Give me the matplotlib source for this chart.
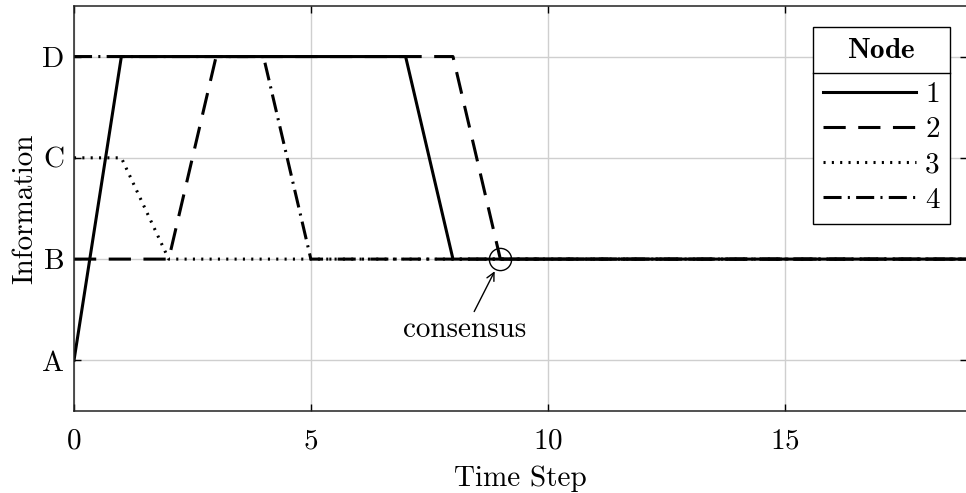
"""Consensus of node information over time steps."""
import matplotlib
matplotlib.use("Agg")
import matplotlib.pyplot as plt
from matplotlib.lines import Line2D

plt.rcParams['font.family'] = ['cmr10', 'DejaVu Serif']
plt.rcParams['mathtext.fontset'] = 'cm'
plt.rcParams['axes.formatter.use_mathtext'] = True
plt.rcParams['lines.scale_dashes'] = False

# data: information level per node at each time step (A=1, B=2, C=3, D=4)
time_steps = list(range(0, 20))
node_1 = [1, 4, 4, 4, 4, 4, 4, 4, 2, 2, 2, 2, 2, 2, 2, 2, 2, 2, 2, 2]
node_2 = [2, 2, 2, 4, 4, 4, 4, 4, 4, 2, 2, 2, 2, 2, 2, 2, 2, 2, 2, 2]
node_3 = [3, 3, 2, 2, 2, 2, 2, 2, 2, 2, 2, 2, 2, 2, 2, 2, 2, 2, 2, 2]
node_4 = [4, 4, 4, 4, 4, 2, 2, 2, 2, 2, 2, 2, 2, 2, 2, 2, 2, 2, 2, 2]
node_labels = ['1', '2', '3', '4']
info_levels = [1, 2, 3, 4]
info_labels = ['A', 'B', 'C', 'D']
x_ticks = [0, 5, 10, 15]
consensus_point = (9, 2)

FS = 21
styles = [
    '-',
    (0, (16, 9)),
    (0, (1.5, 4.5)),
    (0, (13, 4.5, 1.5, 4.5)),
]

fig = plt.figure(figsize=(9.66, 4.93), dpi=100)
ax = fig.add_axes([0.0766, 0.1663, 0.9244, 0.8217])

for vals, ls, lab in zip([node_1, node_2, node_3, node_4], styles, node_labels):
    ax.plot(time_steps, vals, color='black', lw=2.2, linestyle=ls, label=lab)

ax.plot(*consensus_point, marker='o', ms=16, mfc='none', mec='black', mew=1.0, zorder=5)
ax.annotate('consensus', xy=(consensus_point[0] - 0.12, consensus_point[1] - 0.12),
            xytext=(8.25, 1.3), ha='center', va='center', fontsize=FS,
            arrowprops=dict(arrowstyle='->', color='black', lw=1.0,
                            shrinkA=2, shrinkB=0, mutation_scale=14))

ax.set_xlim(0, 18.85)
ax.set_ylim(0.5, 4.5)
ax.set_xticks(x_ticks)
ax.set_yticks(info_levels)
ax.set_yticklabels(info_labels)
ax.tick_params(direction='in', top=True, right=True, length=5, width=1,
               labelsize=FS)
ax.tick_params(axis='x', pad=12.5)
ax.tick_params(axis='y', pad=7)
ax.grid(True, color='#cfcfcf', lw=1.0)
ax.set_axisbelow(True)
for sp in ax.spines.values():
    sp.set_linewidth(1.1)
    sp.set_color('#222222')

ax.set_xlabel('Time Step', fontsize=FS, labelpad=7.5)
ax.set_ylabel('Information', fontsize=FS, labelpad=3)

leg = ax.legend(title=r'$\mathbf{Node}$', loc='upper right',
                bbox_to_anchor=(0.981, 0.948), borderaxespad=0, fontsize=FS,
                title_fontsize=FS, fancybox=False, framealpha=1,
                edgecolor='black', handlelength=3.2, handletextpad=0.3,
                labelspacing=0.3, borderpad=0.35)
leg.get_frame().set_linewidth(1.0)
# extra room between the title and the entries
leg._legend_box.sep = 13

# separator line under the legend title
fig.canvas.draw()
inv = fig.transFigure.inverted()
frame_bb = leg.get_frame().get_window_extent()
title_bb = leg.get_title().get_window_extent()
y_sep = title_bb.y0 - 9
x0, y0 = inv.transform((frame_bb.x0, y_sep))
x1, _ = inv.transform((frame_bb.x1, y_sep))
fig.add_artist(Line2D([x0, x1], [y0, y0], color='black', lw=1.0))

fig.savefig('out.png', dpi=100)
